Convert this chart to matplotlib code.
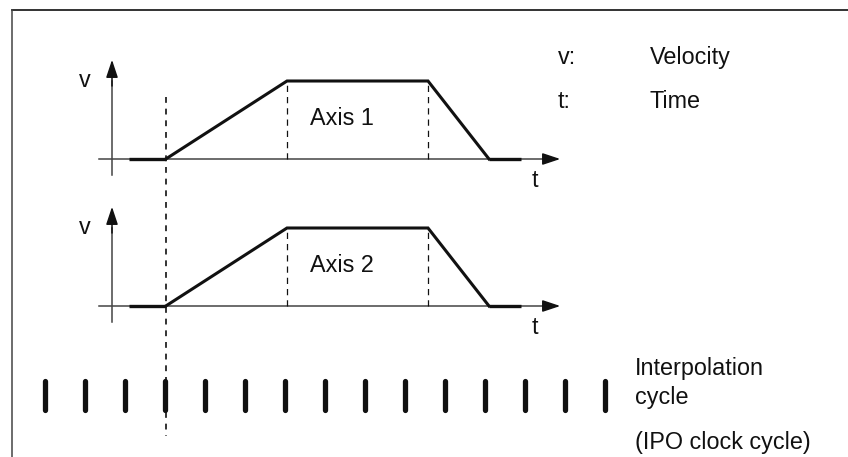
import numpy as np
import matplotlib.pyplot as plt
from matplotlib.lines import Line2D

plt.rcParams['font.family'] = ['Liberation Sans', 'DejaVu Sans']

# velocity profile (time in IPO cycles, velocity normalised)
profile_t = [3.02, 6.05, 9.575, 11.1]
profile_v = [0, 1, 1, 0]
idle_before = [2.1, 3.02]
idle_after = [11.1, 11.9]
axis_names = ['Axis 1', 'Axis 2']
clock_cycles = np.arange(15)
legend_keys = ['v:', 't:']
legend_text = ['Velocity', 'Time']

# layout (pixel scale of the original drawing)
W, H = 848, 457
X0, PX_CYC = 45, 40
Y0, PX_V = 159, 78
PANEL_GAP = 147 / PX_V
FS = 16.8

def xpx(p):
    return (p - X0) / PX_CYC

def ypx(p):
    return (Y0 - p) / PX_V

fig = plt.figure(figsize=(W / 100, H / 100), dpi=100)
ax = fig.add_axes([0, 0, 1, 1])
ax.set_xlim(xpx(0), xpx(W))
ax.set_ylim(ypx(H), ypx(0))
ax.axis('off')

ink = '#111111'
axc = '#444444'
arrow = '-|>,head_length=0.6,head_width=0.2'

for i, name in enumerate(axis_names):
    off = -i * PANEL_GAP
    # coordinate axes
    ax.plot([xpx(99), xpx(548)], [off, off], color=axc, lw=1.1)
    ax.annotate('', xy=(xpx(563), off), xytext=(xpx(540), off),
                arrowprops=dict(arrowstyle=arrow, mutation_scale=18, color=ink, lw=1.1))
    ax.plot([xpx(112), xpx(112)], [off - 0.205, off + 1.0], color=axc, lw=1.1)
    ax.annotate('', xy=(xpx(112), off + ypx(57)), xytext=(xpx(112), off + 0.9),
                arrowprops=dict(arrowstyle=arrow, mutation_scale=18, color=ink, lw=1.1))
    # profile
    ax.plot(idle_before, [off, off], color=ink, lw=2.4, solid_capstyle='butt')
    ax.plot(idle_after, [off, off], color=ink, lw=2.4, solid_capstyle='butt')
    ax.plot(profile_t, np.array(profile_v) + off, color=ink, lw=2.2,
            solid_joinstyle='miter')
    for t in profile_t[1:3]:
        ax.plot([t, t], [off, off + 1], color=ink, lw=0.9, ls=(0, (5, 4)))
    ax.text(xpx(310), off + ypx(125), name, fontsize=FS, color=ink, va='baseline')
    ax.text(xpx(85), off + ypx(87), 'v', fontsize=FS, color=ink, ha='center', va='baseline')
    ax.text(xpx(535), off + ypx(187), 't', fontsize=FS, color=ink, ha='center', va='baseline')

# start marker
ax.plot([profile_t[0], profile_t[0]], [ypx(97), ypx(436)], color=ink, lw=1.2, ls=(0, (3.5, 3.5)))

# IPO clock ticks
for c in clock_cycles:
    ax.plot([c, c], [ypx(381), ypx(410)], color=ink, lw=3.8, solid_capstyle='round')

for j, (k, txt) in enumerate(zip(legend_keys, legend_text)):
    yb = ypx(64 + j * 44)
    ax.text(xpx(558), yb, k, fontsize=FS, color=ink, va='baseline')
    ax.text(xpx(650), yb, txt, fontsize=FS, color=ink, va='baseline')

ax.text(xpx(635), ypx(375), 'Interpolation', fontsize=FS, color=ink, va='baseline')
ax.text(xpx(635), ypx(404), 'cycle', fontsize=FS, color=ink, va='baseline')
ax.text(xpx(635), ypx(449), '(IPO clock cycle)', fontsize=FS, color=ink, va='baseline')

# frame (top and left edges)
fig.add_artist(Line2D([12 / W, 1], [1 - 10 / H, 1 - 10 / H], color='#222222', lw=1.3))
fig.add_artist(Line2D([12 / W, 12 / W], [0, 1 - 10 / H], color='#444444', lw=1.1))

fig.savefig('out.png', dpi=100)
